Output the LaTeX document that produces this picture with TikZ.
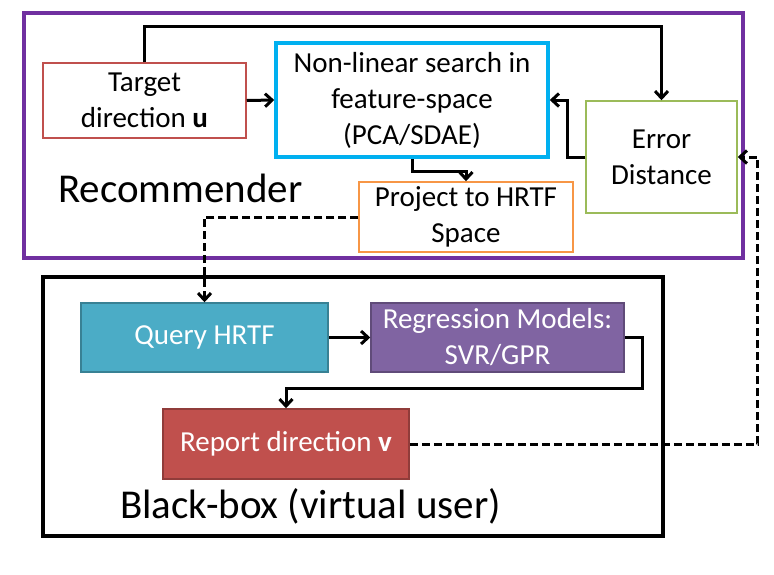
\documentclass[tikz,border=0pt]{standalone}
\usepackage{fontspec}
\setmainfont{Carlito}
\usepackage{tikz}
\usetikzlibrary{positioning,arrows.meta,calc}
\definecolor{recc}{RGB}{112,48,160}
\definecolor{searchc}{RGB}{0,176,240}
\definecolor{targetc}{RGB}{192,80,77}
\definecolor{errorc}{RGB}{155,187,89}
\definecolor{projc}{RGB}{247,150,70}
\definecolor{queryc}{RGB}{75,172,198}
\definecolor{regc}{RGB}{128,100,162}
\definecolor{reportc}{RGB}{192,80,77}
\tikzset{
  plain/.style    = {draw, line width=1.5pt, fill=white, align=center, inner sep=0pt,
                     font=\fontsize{29}{36}\selectfont},
  solid/.style    = {draw, line width=1.5pt, align=center, inner sep=0pt, text=white,
                     font=\fontsize{29}{36}\selectfont},
  frame/.style    = {line width=3.5pt},
  big/.style      = {font=\fontsize{41}{48}\selectfont, inner sep=0pt, anchor=base west},
  flow/.style     = {-{Straight Barb[length=7pt,width=13pt,line width=3pt]}, line width=3pt},
  dflow/.style    = {flow, dash pattern=on 8pt off 4pt},
}

\begin{document}
\begin{tikzpicture}[x=1pt,y=-1pt]
\useasboundingbox (0,0) rectangle (774,574);

% outer frames
\draw[frame, recc] (24,13) rectangle (743,258);
\draw[frame, black] (43,277) rectangle (663,536);
\node[big] (reclbl) at (58,202) {Recommender};
\node[big] (bblbl) at (120,518) {Black-box (virtual user)};

% recommender part
\node[plain, draw=targetc, minimum width=203pt, minimum height=75pt] (target) at (144.5,100.5)
  {Target\\direction \textbf{u}};
\node[plain, draw=searchc, line width=3.5pt, minimum width=272pt, minimum height=114pt] (search) at (412,100)
  {Non-linear search in\\feature-space\\(PCA/SDAE)};
\node[plain, draw=errorc, minimum width=151pt, minimum height=112pt] (error) at (661.5,157)
  {Error\\Distance};
\node[plain, draw=projc, minimum width=214pt, minimum height=70pt] (project) at (466,217)
  {Project to HRTF\\Space};

% black-box part
\node[solid, fill=queryc, draw=queryc!75!black, minimum width=247pt, minimum height=69pt] (query) at (204.5,337.5)
  {Query HRTF};
\node[solid, fill=regc, draw=regc!75!black, minimum width=253pt, minimum height=69pt] (regress) at (497.5,337.5)
  {Regression Models:\\SVR/GPR};
\node[solid, fill=reportc, draw=reportc!75!black, minimum width=246pt, minimum height=70pt] (report) at (286,444)
  {Report direction \textbf{v}};

\draw[flow] (target.north) -- ++(0,-36) -| (error.north);
\draw[flow] (target.east) -- (search.west);
\draw[flow] (error.west) -- ++(-18,0) |- (search.east);
\draw[flow] (search.south) -- ++(0,13) -| (project.north);
\draw[dflow] (project.west) -| (query.north);
\draw[flow] (query.east) -- (regress.west);
\draw[flow] (regress.east) -- ++(18,0) -- ++(0,51) -| (report.north);
\draw[dflow] (report.east) -- ++(348,0) |- (error.east);

\end{tikzpicture}
\end{document}
